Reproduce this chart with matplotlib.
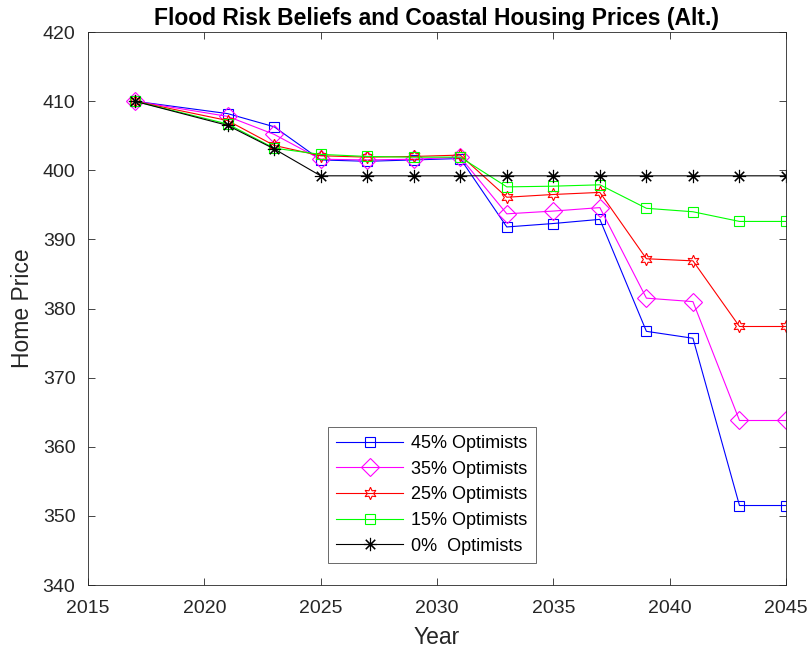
import numpy as np
import matplotlib
matplotlib.use('Agg')
import matplotlib.pyplot as plt

years = [2017, 2021, 2023, 2025, 2027, 2029, 2031, 2033, 2035, 2037, 2039, 2041, 2043, 2045]

opt45 = [410.0, 408.2, 406.3, 401.5, 401.3, 401.5, 401.7, 391.8, 392.3, 392.9, 376.7, 375.7, 351.5, 351.5]
opt35 = [410.0, 407.8, 405.2, 401.6, 401.5, 401.6, 401.9, 393.7, 394.1, 394.6, 381.5, 381.0, 363.8, 363.8]
opt25 = [410.0, 407.2, 403.6, 402.1, 401.9, 402.0, 402.2, 396.1, 396.5, 396.8, 387.2, 386.9, 377.4, 377.4]
opt15 = [410.0, 406.7, 403.2, 402.3, 402.0, 401.9, 401.9, 397.6, 397.7, 397.9, 394.5, 394.0, 392.6, 392.6]
opt0 = [410.0, 406.5, 403.1, 399.2, 399.2, 399.2, 399.2, 399.2, 399.2, 399.2, 399.2, 399.2, 399.2, 399.2]

labels = ['45% Optimists', '35% Optimists', '25% Optimists', '15% Optimists', '0%  Optimists']

plt.rcParams['font.family'] = ['Liberation Sans', 'DejaVu Sans']

fig = plt.figure(figsize=(8.07, 6.54), dpi=100)
ax = fig.add_axes([0.109, 0.1055, 0.865, 0.8455])

style = dict(linewidth=0.8, markerfacecolor='none', markeredgewidth=0.8)
ax.plot(years, opt45, color='#0000ff', marker='s', markersize=7, label=labels[0], **style)
ax.plot(years, opt35, color='#ff00ff', marker='D', markersize=9.5, label=labels[1], **style)
ax.plot(years, opt25, color='#ff0000', marker=(6, 1, 0), markersize=9, label=labels[2], **style)
ax.plot(years, opt15, color='#00ff00', marker='s', markersize=7, label=labels[3], **style)
ax.plot(years, opt0, color='black', marker=(8, 2, 0), markersize=9.5, label=labels[4], **style)

ax.set_xlim(2015, 2045)
ax.set_ylim(340, 420)
ax.set_xticks(range(2015, 2046, 5))
ax.set_yticks(range(340, 421, 10))
ax.tick_params(direction='in', top=True, right=True, length=5, width=0.6,
               labelsize=14, colors='0.15')
ax.tick_params(axis='x', pad=11)
ax.tick_params(axis='y', pad=9)
for s in ax.spines.values():
    s.set_color('0.15')
    s.set_linewidth(0.6)

ax.set_xlabel('Year', fontsize=16.5, color='0.15', labelpad=6)
ax.set_ylabel('Home Price', fontsize=16.5, color='0.15', labelpad=6)
ax.set_title('Flood Risk Beliefs and Coastal Housing Prices (Alt.)', fontsize=16.5,
             fontweight='bold', pad=5)

leg = ax.legend(loc='lower left', bbox_to_anchor=(0.344, 0.04), fontsize=13,
                handlelength=3.7, fancybox=False, edgecolor='0.15',
                borderpad=0.45, labelspacing=0.48, handletextpad=0.45,
                borderaxespad=0)
leg.get_frame().set_linewidth(0.6)

fig.savefig('out.png', dpi=100)
